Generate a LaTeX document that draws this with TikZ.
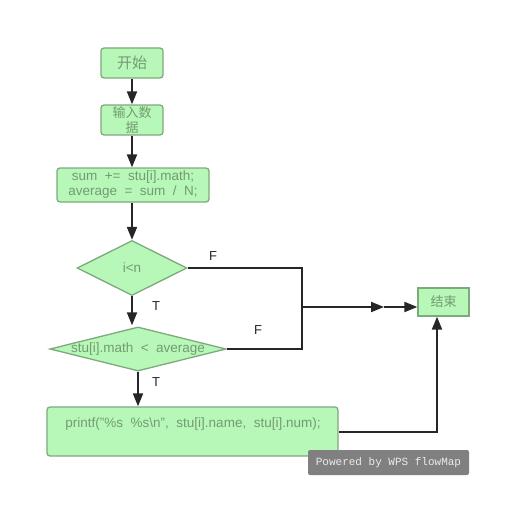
\documentclass[tikz,border=0pt]{standalone}
\usepackage{fontspec}
\setmainfont{Liberation Sans}
\newfontfamily\cjk{Noto Sans CJK SC}
\newfontfamily\wmono{Liberation Mono}
\usetikzlibrary{arrows.meta,shapes.geometric}
\definecolor{boxfill}{RGB}{183,247,183}
\definecolor{boxdraw}{RGB}{125,170,125}
\definecolor{boxtext}{RGB}{115,155,115}
\definecolor{wmgray}{RGB}{128,128,128}
\tikzset{
  stepbox/.style={draw=boxdraw, fill=boxfill, line width=1.3pt, rounded corners=3pt, text=boxtext, align=center, inner sep=0pt},
  decision/.style={diamond, draw=boxdraw, fill=boxfill, line width=1.3pt, text=boxtext, inner sep=0pt},
  flow/.style={draw=black!85, line width=2pt, -{Triangle[length=13pt,width=10pt]}},
  plainline/.style={draw=black!85, line width=2pt},
  lbl/.style={font=\fontsize{13}{15}\selectfont, text=black!85}
}
\begin{document}
\begin{tikzpicture}[x=1pt,y=-1pt]
\useasboundingbox (0,0) rectangle (532,519);
\node[stepbox, minimum width=62pt, minimum height=30pt, font=\cjk\fontsize{15}{17}\selectfont] (start) at (132,63) {开始};
\node[stepbox, minimum width=62pt, minimum height=30pt, font=\cjk\fontsize{13}{15}\selectfont] (input) at (132,120) {输入数\\据};
\node[stepbox, minimum width=152pt, minimum height=34pt, font=\fontsize{13.5}{15}\selectfont] (sum) at (133,185) {sum\ \ +=\ \ stu[i].math;\\average\ \ =\ \ sum\ \ /\ \ N;};
\node[decision, aspect=2, minimum width=110pt, minimum height=55pt, font=\fontsize{13.5}{15}\selectfont] (cond1) at (132,268) {i<n};
\node[decision, aspect=4, inner xsep=-4pt, minimum width=176pt, minimum height=44pt, font=\fontsize{13.5}{15}\selectfont] (cond2) at (138,349) {stu[i].math\ \ <\ \ average};
\node[stepbox, minimum width=291pt, minimum height=49pt] (print) at (192.5,431.5) {};
\node[font=\fontsize{13.5}{15}\selectfont, text=boxtext] (printtxt) at (193,424) {printf("\%s\ \ \%s\textbackslash n",\ \ stu[i].name,\ \ stu[i].num);};
\node[stepbox, rounded corners=0pt, minimum width=51pt, minimum height=28pt, font=\cjk\fontsize{13}{15}\selectfont] (end) at (443.5,302) {结束};
\node[fill=wmgray, rounded corners=2pt, minimum width=161pt, minimum height=25pt, inner sep=0pt, text=white!92!black, font=\wmono\fontsize{11}{13}\selectfont] (wm) at (388.5,462.5) {Powered by WPS flowMap};

\coordinate (j1) at (302,268);
\coordinate (j2) at (302,349);
\coordinate (jm) at (302,307);
\coordinate (mid) at (384,307);
\coordinate (pr) at (437,432);

\draw[flow] (start) -- (input);
\draw[flow] (input) -- (input |- sum.north);
\draw[flow] (sum.south -| cond1.north) -- (cond1.north);
\draw[flow] (cond1.south) -- ([yshift=1pt]cond1.south |- cond2.north);
\draw[flow] (cond2.south) -- (print.north -| cond2.south);
\draw[plainline] (cond1.east) -- (j1) -- (j2) -- (cond2.east);
\draw[flow] (jm) -- (mid);
\draw[flow] (mid) -- (end.west |- mid);
\draw[flow] (print.east |- pr) -- (pr) -- (end.south -| pr);

\node[lbl] (f1) at (213,256) {F};
\node[lbl] (t1) at (156,306) {T};
\node[lbl] (f2) at (258,330) {F};
\node[lbl] (t2) at (156,382) {T};
\end{tikzpicture}
\end{document}
